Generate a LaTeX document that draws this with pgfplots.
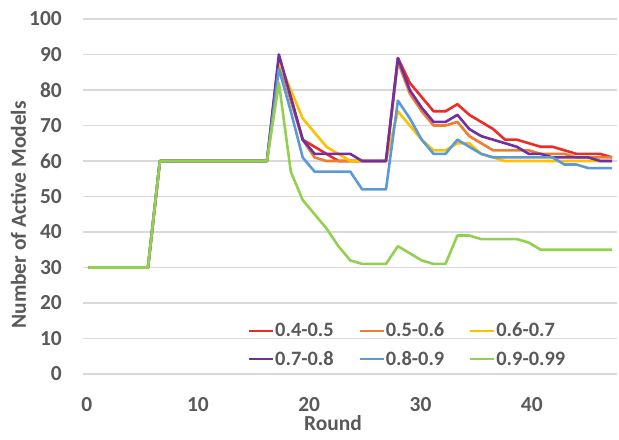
\documentclass[border=0pt]{standalone}
\usepackage{pgfplots}
\pgfplotsset{compat=1.18}
\usepackage{pgfplotstable}
\usepackage{fontspec}
\setmainfont{Carlito}
\definecolor{txt}{HTML}{595959}
\definecolor{gridc}{HTML}{D9D9D9}
\definecolor{cred}{HTML}{EE2B24}
\definecolor{corange}{HTML}{ED7D31}
\definecolor{cyellow}{HTML}{FFC000}
\definecolor{cpurple}{HTML}{7030A0}
\definecolor{cblue}{HTML}{5B9BD5}
\definecolor{cgreen}{HTML}{92D050}
\pgfplotstableread{
r  a  b  c  d  e  f
0  30 30 30 30 30 30
1  30 30 30 30 30 30
2  30 30 30 30 30 30
3  30 30 30 30 30 30
4  30 30 30 30 30 30
5  30 30 30 30 30 30
6  60 60 60 60 60 60
7  60 60 60 60 60 60
8  60 60 60 60 60 60
9  60 60 60 60 60 60
10 60 60 60 60 60 60
11 60 60 60 60 60 60
12 60 60 60 60 60 60
13 60 60 60 60 60 60
14 60 60 60 60 60 60
15 60 60 60 60 60 60
16 89 88 88 90 86 82
17 78 77 80 78 74 57
18 66 66 72 66 61 49
19 64 61 68 62 57 45
20 62 60 64 62 57 41
21 60 60 62 62 57 36
22 60 60 60 62 57 32
23 60 60 60 60 52 31
24 60 60 60 60 52 31
25 60 60 60 60 52 31
26 89 88 74 89 77 36
27 82 79 70 80 72 34
28 78 74 66 75 66 32
29 74 70 63 71 62 31
30 74 70 63 71 62 31
31 76 71 65 73 66 39
32 73 67 65 69 64 39
33 71 65 62 67 62 38
34 69 63 61 66 61 38
35 66 63 60 65 61 38
36 66 63 60 64 61 38
37 65 63 60 62 61 37
38 64 62 60 62 61 35
39 64 62 60 61 61 35
40 63 62 60 61 59 35
41 62 61 60 61 59 35
42 62 61 60 61 58 35
43 62 61 60 60 58 35
44 61 61 60 60 58 35
}\data
\begin{document}
\begin{tikzpicture}
\useasboundingbox (0,0) rectangle (619bp,440bp);
\begin{axis}[
  at={(83bp,66bp)}, anchor=south west,
  scale only axis, width=534bp, height=355bp,
  xmin=-0.46, xmax=44.41, ymin=0, ymax=100,
  ytick={0,10,...,100},
  xtick={-0.15,9.2,18.55,27.9,37.25},
  xticklabels={0,10,20,30,40},
  /pgf/number format/assume math mode=true,
  ymajorgrids,
  grid style={draw=gridc, line width=1.2bp},
  axis line style={draw=none},
  major tick length=0pt,
  tick label style={font=\fontsize{21.5}{25}\selectfont\bfseries, text=txt},
  yticklabel style={inner sep=0pt, anchor=east, xshift=-21bp},
  xticklabel style={inner sep=0pt, anchor=north, yshift=-23bp},
  ylabel={Number of Active Models},
  xlabel={Round},
  label style={font=\fontsize{21.5}{25}\selectfont\bfseries, text=txt},
  ylabel style={at={(axis description cs:-0.121,0.448)}, anchor=center},
  xlabel style={at={(axis description cs:0.468,-0.138)}, anchor=center},
  legend columns=3,
  legend cell align=left,
  legend image code/.code={\draw[#1, line width=2bp] (0bp,0bp) -- (24bp,0bp);},
  legend style={draw=none, fill=none, inner sep=0pt,
    at={(axis description cs:0.309,0.147)}, anchor=north west,
    font=\fontsize{20.5}{24}\selectfont\bfseries, text=txt,
    nodes={inner sep=1bp},
    /tikz/every even column/.append style={column sep=24bp},
    row sep=11bp},
  every axis plot/.append style={line width=2.6bp, line join=round, mark=none},
]
\addplot[cred] table[x=r,y=a] {\data};
\addlegendentry{0.4-0.5}
\addplot[corange] table[x=r,y=b] {\data};
\addlegendentry{0.5-0.6}
\addplot[cyellow] table[x=r,y=c] {\data};
\addlegendentry{0.6-0.7}
\addplot[cpurple] table[x=r,y=d] {\data};
\addlegendentry{0.7-0.8}
\addplot[cblue] table[x=r,y=e] {\data};
\addlegendentry{0.8-0.9}
\addplot[cgreen] table[x=r,y=f] {\data};
\addlegendentry{0.9-0.99}
\end{axis}
\end{tikzpicture}
\end{document}
